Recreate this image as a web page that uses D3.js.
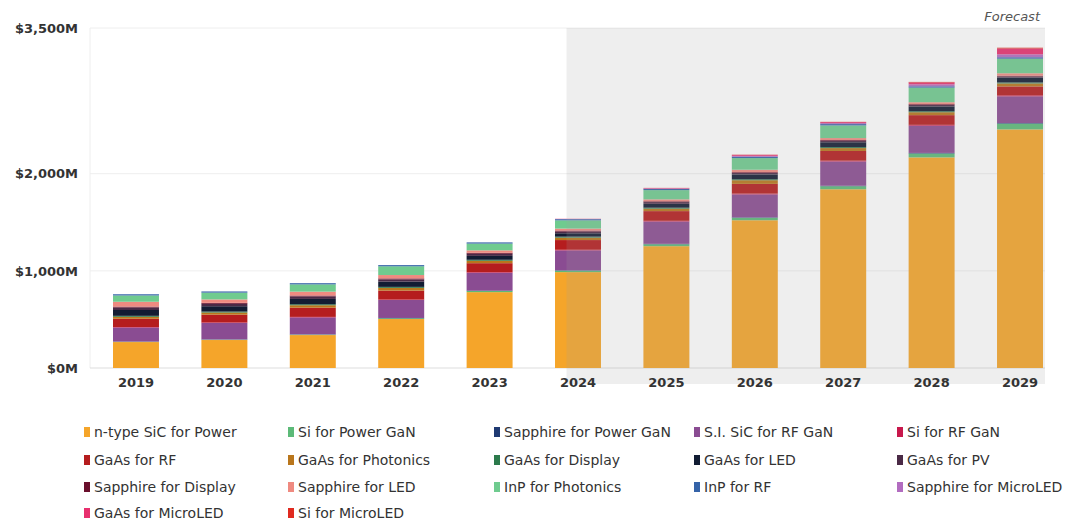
<!DOCTYPE html>
<html>
<head>
<meta charset="utf-8">
<script src="https://cdn.jsdelivr.net/npm/d3@7"></script>
<style>
  body { margin: 0; background: #fff; }
  svg { font-family: "DejaVu Sans", "Open Sans", sans-serif; }
</style>
</head>
<body>
<svg id="chart" width="1084" height="522"></svg>
<script>
// Years and tick labels
const years = ["2019", "2020", "2021", "2022", "2023", "2024", "2025", "2026", "2027", "2028", "2029"];
const yTicks = [0, 1000, 2000, 3500];

// Series, bottom to top ($M)
const seriesNames = [
  "n-type SiC for Power", "Si for Power GaN", "Sapphire for Power GaN", "S.I. SiC for RF GaN",
  "Si for RF GaN", "GaAs for RF", "GaAs for Photonics", "GaAs for Display", "GaAs for LED",
  "GaAs for PV", "Sapphire for Display", "Sapphire for LED", "InP for Photonics", "InP for RF",
  "Sapphire for MicroLED", "GaAs for MicroLED", "Si for MicroLED"
];
const seriesColors = [
  "#f5a52a", "#5cba78", "#1f3a72", "#8a4c92", "#c8184c", "#b51d1e", "#b9761c", "#2c7a4c",
  "#121c33", "#4a2a46", "#6a0f2c", "#ef8a80", "#6fcb8f", "#3563a8", "#b26cc0", "#e8306e", "#e02a1f"
];

const nTypeSiC      = [267, 288, 339, 504, 781, 987, 1254, 1521, 1840, 2168, 2456];
const siPowerGaN    = [3, 4, 5, 8, 12, 15, 20, 25, 31, 40, 60];
const sapphPowerGaN = [2, 2, 2, 3, 3, 4, 4, 5, 5, 6, 6];
const siSiCRF       = [145, 170, 175, 185, 185, 205, 230, 236, 250, 280, 275];
const siRFGaN       = [5, 5, 5, 5, 6, 6, 7, 8, 8, 9, 10];
const gaasRF        = [85, 80, 95, 92, 92, 100, 100, 100, 100, 100, 92];
const gaasPhotonics = [20, 22, 25, 28, 25, 25, 25, 38, 30, 30, 30];
const gaasDisplay   = [10, 10, 10, 10, 10, 10, 10, 10, 10, 10, 10];
const gaasLED       = [60, 55, 55, 55, 40, 35, 40, 50, 50, 50, 50];
const gaasPV        = [25, 25, 25, 22, 22, 18, 18, 15, 15, 15, 12];
const sapphDisplay  = [10, 10, 10, 10, 10, 10, 8, 8, 8, 8, 8];
const sapphLED      = [50, 35, 40, 35, 25, 20, 20, 25, 20, 20, 25];
const inpPhotonics  = [65, 70, 75, 90, 70, 85, 95, 120, 130, 150, 150];
const inpRF         = [12, 12, 12, 12, 12, 12, 12, 13, 14, 14, 15];
const sapphMicroLED = [0, 0, 0, 0, 0, 2, 5, 10, 10, 20, 30];
const gaasMicroLED  = [0, 0, 0, 0, 0, 2, 5, 10, 10, 20, 60];
const siMicroLED    = [0, 0, 0, 0, 0, 0, 1, 2, 3, 5, 8];

const seriesValues = [
  nTypeSiC, siPowerGaN, sapphPowerGaN, siSiCRF, siRFGaN, gaasRF, gaasPhotonics, gaasDisplay,
  gaasLED, gaasPV, sapphDisplay, sapphLED, inpPhotonics, inpRF, sapphMicroLED, gaasMicroLED, siMicroLED
];

const forecastStart = "2024";

// table for d3.stack
const table = years.map((yr, i) => {
  const row = { year: yr };
  seriesNames.forEach((s, k) => { row[s] = seriesValues[k][i]; });
  return row;
});

const svg = d3.select("#chart");

const x = d3.scaleBand()
    .domain(years)
    .range([113, 1043])
    .paddingInner(0.48)
    .paddingOuter(0);

const y = d3.scaleLinear()
    .domain([0, 3500])
    .range([368, 28]);

const color = d3.scaleOrdinal().domain(seriesNames).range(seriesColors);

const plotLeft = 90, plotRight = 1045;

// frame + gridlines
svg.append("line")
    .attr("x1", plotLeft).attr("x2", plotLeft)
    .attr("y1", y(3500)).attr("y2", y(0))
    .attr("stroke", "#eeeeee");

svg.selectAll("line.grid")
    .data(yTicks)
    .enter().append("line")
    .attr("class", "grid")
    .attr("x1", plotLeft).attr("x2", plotRight)
    .attr("y1", d => y(d)).attr("y2", d => y(d))
    .attr("stroke", d => d === 0 ? "#dddddd" : "#eeeeee")
    .attr("stroke-width", 1);

// stacked bars
const stacked = d3.stack().keys(seriesNames)(table);

svg.append("g")
  .selectAll("g")
  .data(stacked)
  .enter().append("g")
    .attr("fill", d => color(d.key))
  .selectAll("rect")
  .data(d => d)
  .enter().append("rect")
    .attr("x", d => x(d.data.year))
    .attr("width", x.bandwidth())
    .attr("y", d => y(d[1]))
    .attr("height", d => Math.max(0, y(d[0]) - y(d[1])));

// forecast shading, drawn over the bars
const shadeX = x(forecastStart) + x.bandwidth() * 0.25;
svg.append("rect")
    .attr("x", shadeX)
    .attr("y", y(3500))
    .attr("width", plotRight - shadeX)
    .attr("height", 384 - y(3500))
    .attr("fill", "rgb(160,160,160)")
    .attr("fill-opacity", 0.18);

svg.append("text")
    .attr("x", 1040).attr("y", 21)
    .attr("text-anchor", "end")
    .attr("font-style", "italic")
    .attr("font-size", 13)
    .attr("fill", "#555")
    .text("Forecast");

// y axis labels
const yAxis = d3.axisLeft(y)
    .tickValues(yTicks)
    .tickSize(0)
    .tickPadding(0)
    .tickFormat(d => "$" + d3.format(",")(d) + "M");

svg.append("g")
    .attr("transform", "translate(78,0)")
    .call(yAxis)
    .call(g => g.select(".domain").remove())
    .call(g => g.selectAll("text")
        .attr("font-size", 13)
        .attr("font-weight", "bold")
        .attr("fill", "#333")
        .attr("font-family", "'DejaVu Sans', sans-serif"));

// x axis labels
const xAxis = d3.axisBottom(x).tickSize(0).tickPadding(0);
svg.append("g")
    .attr("transform", "translate(0,378)")
    .call(xAxis)
    .call(g => g.select(".domain").remove())
    .call(g => g.selectAll("text")
        .attr("font-size", 13)
        .attr("font-weight", "bold")
        .attr("fill", "#333")
        .attr("font-family", "'DejaVu Sans', sans-serif"));

// legend: 5 columns
const legendCols = [84, 288, 494, 694, 897];
const legendRows = [432, 460, 487, 513];

const legend = svg.append("g")
  .selectAll("g")
  .data(seriesNames)
  .enter().append("g")
    .attr("transform", (d, i) => `translate(${legendCols[i % 5]},${legendRows[Math.floor(i / 5)]})`);

legend.append("rect")
    .attr("x", 0).attr("y", -5)
    .attr("width", 6).attr("height", 10)
    .attr("fill", d => color(d));

legend.append("text")
    .attr("x", 10).attr("y", 0)
    .attr("dy", "0.35em")
    .attr("font-size", 14)
    .attr("fill", "#333")
    .text(d => d);
</script>
</body>
</html>
